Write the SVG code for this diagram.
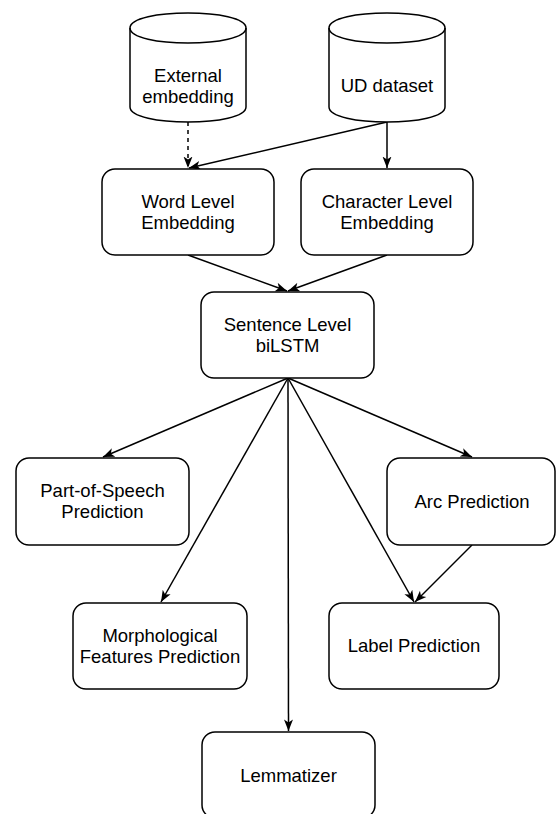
<svg xmlns="http://www.w3.org/2000/svg" width="556" height="814" viewBox="0 0 556 814">
<defs>
<style>
.box{fill:#fff;stroke:#000;stroke-width:1.5}
.t{font-family:"Liberation Sans",Arial,sans-serif;font-size:18.5px;fill:#000;text-anchor:middle}
.c{fill:none;stroke:#000;stroke-width:1.5}
.d{stroke-dasharray:4 4}
</style>
<marker id="ah" markerUnits="userSpaceOnUse" markerWidth="12" markerHeight="10" viewBox="0 0 12 10" refX="11.5" refY="5" orient="auto">
<path d="M0,0.5 L11.5,5 L0,9.5 L3,5 Z" fill="#000"/>
</marker>
</defs>
<rect width="556" height="814" fill="#fff"/>
<g id="connectors">
<line class="c d" x1="188" y1="122" x2="188" y2="168" marker-end="url(#ah)"/>
<line class="c" x1="387" y1="122" x2="189" y2="168" marker-end="url(#ah)"/>
<line class="c" x1="387" y1="122" x2="387" y2="168" marker-end="url(#ah)"/>
<line class="c" x1="188" y1="255" x2="287" y2="291" marker-end="url(#ah)"/>
<line class="c" x1="387" y1="255" x2="288" y2="291" marker-end="url(#ah)"/>
<line class="c" x1="288" y1="378" x2="103" y2="457" marker-end="url(#ah)"/>
<line class="c" x1="288" y1="378" x2="161" y2="602" marker-end="url(#ah)"/>
<line class="c" x1="288" y1="378" x2="288.5" y2="731" marker-end="url(#ah)"/>
<line class="c" x1="288" y1="378" x2="414" y2="602" marker-end="url(#ah)"/>
<line class="c" x1="288" y1="378" x2="472" y2="457" marker-end="url(#ah)"/>
<line class="c" x1="472" y1="545" x2="415" y2="602" marker-end="url(#ah)"/>
</g>
<g id="external-embedding">
<path class="box" d="M130,28 C130,8 246,8 246,28 L246,107 C246,127 130,127 130,107 Z"/>
<path class="c" d="M130,28 C130,48 246,48 246,28"/>
<text class="t" x="188" y="82">External</text>
<text class="t" x="188" y="103">embedding</text>
</g>
<g id="ud-dataset">
<path class="box" d="M329,28 C329,8 445,8 445,28 L445,107 C445,127 329,127 329,107 Z"/>
<path class="c" d="M329,28 C329,48 445,48 445,28"/>
<text class="t" x="387" y="92">UD dataset</text>
</g>
<g id="word-level">
<rect class="box" x="102" y="169" width="172" height="86" rx="13"/>
<text class="t" x="188" y="208">Word Level</text>
<text class="t" x="188" y="229">Embedding</text>
</g>
<g id="char-level">
<rect class="box" x="301" y="169" width="172" height="86" rx="13"/>
<text class="t" x="387" y="208">Character Level</text>
<text class="t" x="387" y="229">Embedding</text>
</g>
<g id="sentence-level">
<rect class="box" x="201" y="292" width="173" height="86" rx="13"/>
<text class="t" x="287.5" y="331">Sentence Level</text>
<text class="t" x="287.5" y="352">biLSTM</text>
</g>
<g id="pos">
<rect class="box" x="16" y="458" width="173" height="87" rx="13"/>
<text class="t" x="102.5" y="497">Part-of-Speech</text>
<text class="t" x="102.5" y="518">Prediction</text>
</g>
<g id="arc">
<rect class="box" x="387" y="458" width="168" height="87" rx="13"/>
<text class="t" x="472" y="508">Arc Prediction</text>
</g>
<g id="morph">
<rect class="box" x="73" y="603" width="174" height="86" rx="13"/>
<text class="t" x="160" y="642">Morphological</text>
<text class="t" x="160" y="663">Features Prediction</text>
</g>
<g id="label">
<rect class="box" x="329" y="603" width="170" height="86" rx="13"/>
<text class="t" x="414" y="652">Label Prediction</text>
</g>
<g id="lemmatizer">
<rect class="box" x="202" y="732" width="173" height="86" rx="13"/>
<text class="t" x="288.5" y="782">Lemmatizer</text>
</g>
</svg>
